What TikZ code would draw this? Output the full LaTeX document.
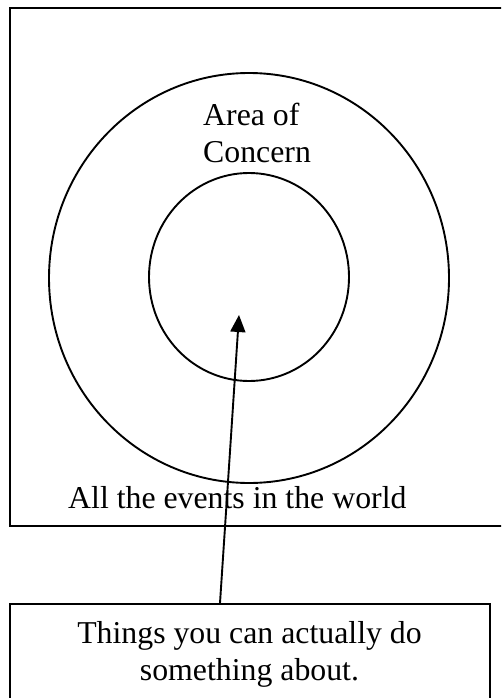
\documentclass[tikz,border=0pt]{standalone}
\usepackage{fontspec}
\setmainfont{Liberation Serif}
\usetikzlibrary{arrows.meta,calc,shapes.geometric}
\tikzset{
  txt/.style={inner sep=0pt, font=\fontsize{31.8}{37}\selectfont},
  ring/.style={draw=black, line width=1.9pt},
  frame/.style={draw=black, line width=2.4pt},
  arr/.style={draw=black, line width=1.9pt, -{Triangle[length=17pt,width=15pt]}}
}
\begin{document}
\begin{tikzpicture}[x=1pt,y=1pt]
\useasboundingbox (0,0) rectangle (501,-698);
\clip (0,0) rectangle (501,-698);
\fill[white] (0,0) rectangle (501,-698);
% outer frame (world)
\node[frame, anchor=north west, minimum width=497pt, minimum height=518pt, inner sep=0pt] (world) at (9,-7) {};
% circles
\node[ring, ellipse, minimum width=400pt, minimum height=410pt, inner sep=0pt] (concern) at (249,-278) {};
\node[ring, ellipse, minimum width=200pt, minimum height=208pt, inner sep=0pt] (influence) at (249,-277) {};
% labels
\node[txt, anchor=base west, align=left] (areatext) at (203,-162) {Area of\\Concern};
\node[txt, anchor=base west] (worldtext) at (68,-508) {All the events in the world};
% bottom box
\node[frame, anchor=north west, minimum width=480pt, minimum height=120pt, inner sep=0pt] (box) at (9,-603) {};
\node[txt, anchor=base, align=center] (boxtext) at (249.5,-680) {Things you can actually do\\something about.};
% arrow
\coordinate (tip) at (239,-315);
\draw[arr] ($(box.north west)+(211,0)$) -- (tip);
\end{tikzpicture}
\end{document}
